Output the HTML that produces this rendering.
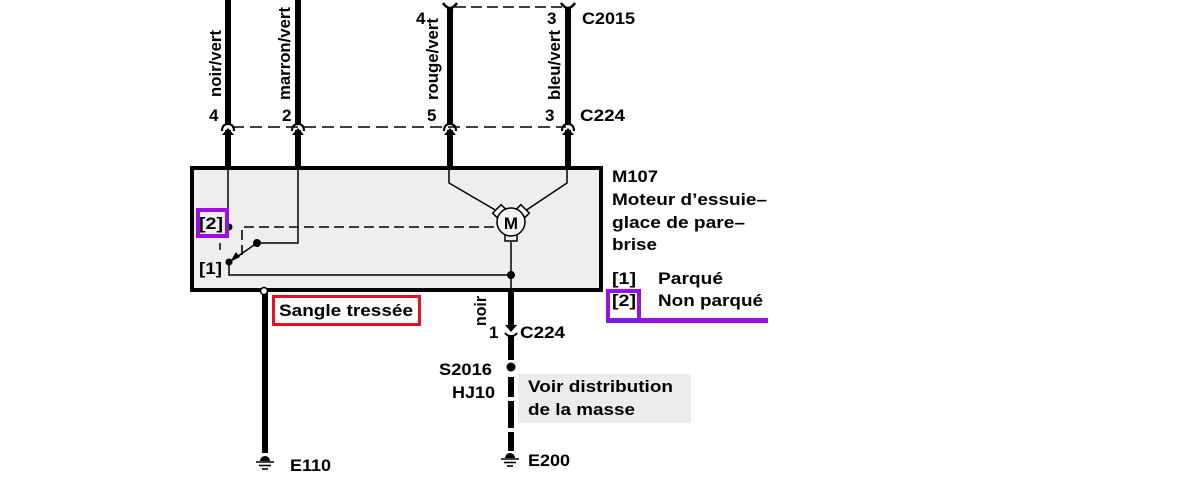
<!DOCTYPE html>
<html><head><meta charset="utf-8"><style>
html,body{margin:0;padding:0;background:#fff;}
svg{display:block;}
text{font-family:"Liberation Sans",Arial,sans-serif;font-weight:bold;font-size:17px;fill:#000;}
</style></head><body>
<svg width="1198" height="501" viewBox="0 0 1198 501" xmlns="http://www.w3.org/2000/svg">
<!-- component box -->
<rect x="192" y="168" width="409" height="122" fill="#eeeeee" stroke="#000" stroke-width="4"/>

<!-- top thick wires -->
<g stroke="#000" stroke-width="6" fill="none">
  <line x1="228" y1="0" x2="228" y2="124"/>
  <line x1="298" y1="0" x2="298" y2="124"/>
  <line x1="450" y1="8" x2="450" y2="124"/>
  <line x1="568" y1="8" x2="568" y2="124"/>
  <line x1="228" y1="130" x2="228" y2="167"/>
  <line x1="298" y1="130" x2="298" y2="167"/>
  <line x1="450" y1="130" x2="450" y2="167"/>
  <line x1="568" y1="130" x2="568" y2="167"/>
</g>
<!-- C224 connector marks (top) -->
<g stroke="#000" stroke-width="2" fill="none">
  <path d="M222 131 Q222 124 228 124 Q234 124 234 131"/>
  <path d="M292 131 Q292 124 298 124 Q304 124 304 131"/>
  <path d="M444 131 Q444 124 450 124 Q456 124 456 131"/>
  <path d="M562 131 Q562 124 568 124 Q574 124 574 131"/>
</g>
<g fill="#000">
  <polygon points="222,135 228,128 234,135"/>
  <polygon points="292,135 298,128 304,135"/>
  <polygon points="444,135 450,128 456,135"/>
  <polygon points="562,135 568,128 574,135"/>
</g>
<!-- C2015 connector marks -->
<g stroke="#000" stroke-width="2.5" fill="none">
  <path d="M443 3 Q450 13 457 3"/>
  <path d="M561 3 Q568 13 575 3"/>
</g>
<!-- dashed connector lines -->
<line x1="232" y1="127" x2="566" y2="127" stroke="#000" stroke-width="1.6" stroke-dasharray="12 6"/>
<line x1="455" y1="7" x2="564" y2="7" stroke="#000" stroke-width="1.6" stroke-dasharray="11 5"/>

<!-- internal thin wiring -->
<g stroke="#000" stroke-width="1.5" fill="none">
  <polyline points="228,170 228,227"/>
  <polyline points="298,170 298,243 257,243"/>
  <line x1="257" y1="243" x2="234" y2="259"/>
  <polyline points="229,262 229,275 511,275"/>
  <polyline points="449,170 449,183 497,211"/>
  <polyline points="567,170 567,183 525,211"/>
  <line x1="511" y1="242" x2="511" y2="290"/>
</g>
<polygon points="230,262 236,252 240,257" fill="#000"/>
<g stroke="#000" stroke-width="1.6" fill="none" stroke-dasharray="10 5">
  <polyline points="242,255 242,227 497,227"/>
</g>
<line x1="220" y1="243" x2="220" y2="250" stroke="#000" stroke-width="1.5"/>
<g fill="#000">
  <circle cx="229" cy="227" r="3.5"/>
  <circle cx="257" cy="243" r="4"/>
  <circle cx="229" cy="262" r="3.5"/>
  <circle cx="511" cy="275" r="4"/>
</g>

<!-- motor -->
<g stroke="#000" stroke-width="1.5" fill="#f4f4f4">
  <rect x="505" y="235" width="12" height="6"/>
  <rect x="-6" y="-3" width="12" height="6" transform="translate(499,211) rotate(-45)"/>
  <rect x="-6" y="-3" width="12" height="6" transform="translate(523,211) rotate(45)"/>
  <circle cx="511" cy="222" r="14"/>
</g>
<text x="511" y="229" text-anchor="middle" font-size="16">M</text>

<!-- purple [2] box inside -->
<rect x="198" y="210" width="29" height="26" fill="none" stroke="#9b10e0" stroke-width="4"/>
<text x="199" y="229" textLength="24" lengthAdjust="spacingAndGlyphs">[2]</text>
<text x="199" y="274" textLength="23" lengthAdjust="spacingAndGlyphs">[1]</text>

<!-- bottom wires -->
<line x1="265" y1="292" x2="265" y2="453" stroke="#000" stroke-width="6"/>
<circle cx="264" cy="291" r="3.5" fill="#fff" stroke="#000" stroke-width="1.5"/>
<g stroke="#000" stroke-width="6">
  <line x1="511" y1="292" x2="511" y2="326"/>
  <line x1="511" y1="335" x2="511" y2="360"/>
  <line x1="511" y1="377" x2="511" y2="397"/>
  <line x1="511" y1="401" x2="511" y2="428"/>
  <line x1="511" y1="432" x2="511" y2="451"/>
</g>
<polygon points="505,325 517,325 511,332" fill="#000"/>
<path d="M505 333 Q511 340 517 333" stroke="#000" stroke-width="2" fill="none"/>
<circle cx="511" cy="367" r="4.5" fill="#000"/>

<!-- grounds -->
<g fill="#000" stroke="none">
  <path d="M260 461 A5 5 0 0 1 270 461 Z"/>
  <path d="M505 458 A5 5 0 0 1 515 458 Z"/>
</g>
<g stroke="#000" stroke-width="1.6">
  <line x1="256" y1="462" x2="274" y2="462"/>
  <line x1="259" y1="465.5" x2="271" y2="465.5"/>
  <line x1="262" y1="469" x2="268" y2="469"/>
  <line x1="501" y1="459" x2="519" y2="459"/>
  <line x1="504" y1="462.5" x2="516" y2="462.5"/>
  <line x1="507" y1="466" x2="513" y2="466"/>
</g>

<!-- red label box -->
<rect x="273.5" y="296.5" width="146" height="28" fill="none" stroke="#e8101e" stroke-width="3"/>
<text x="279" y="316" textLength="134" lengthAdjust="spacingAndGlyphs">Sangle tressée</text>

<!-- gray note -->
<rect x="518" y="374" width="173" height="49" fill="#ececec"/>
<text x="528" y="392" textLength="145" lengthAdjust="spacingAndGlyphs">Voir distribution</text>
<text x="528" y="415" textLength="107" lengthAdjust="spacingAndGlyphs">de la masse</text>

<!-- pin / connector labels -->
<text x="209" y="121">4</text>
<text x="282" y="121">2</text>
<text x="427" y="121">5</text>
<text x="545" y="121">3</text>
<text x="580" y="121" textLength="45" lengthAdjust="spacingAndGlyphs">C224</text>
<text x="416" y="24">4</text>
<text x="547" y="24">3</text>
<text x="582" y="24" textLength="53" lengthAdjust="spacingAndGlyphs">C2015</text>
<text x="489" y="338">1</text>
<text x="520" y="338" textLength="45" lengthAdjust="spacingAndGlyphs">C224</text>
<text x="439" y="375" textLength="53" lengthAdjust="spacingAndGlyphs">S2016</text>
<text x="452" y="398" textLength="43" lengthAdjust="spacingAndGlyphs">HJ10</text>
<text x="290" y="471" textLength="41" lengthAdjust="spacingAndGlyphs">E110</text>
<text x="528" y="466" textLength="42" lengthAdjust="spacingAndGlyphs">E200</text>

<!-- rotated wire colour labels -->
<text transform="translate(221,97) rotate(-90)" textLength="67" lengthAdjust="spacingAndGlyphs">noir/vert</text>
<text transform="translate(290,100) rotate(-90)" textLength="93" lengthAdjust="spacingAndGlyphs">marron/vert</text>
<text transform="translate(438,100) rotate(-90)" textLength="82" lengthAdjust="spacingAndGlyphs">rouge/vert</text>
<text transform="translate(560,100) rotate(-90)" textLength="70" lengthAdjust="spacingAndGlyphs">bleu/vert</text>
<text transform="translate(486,326) rotate(-90)" textLength="30" lengthAdjust="spacingAndGlyphs">noir</text>

<!-- component description -->
<text x="612" y="182" textLength="46" lengthAdjust="spacingAndGlyphs">M107</text>
<text x="612" y="205" textLength="155" lengthAdjust="spacingAndGlyphs">Moteur d’essuie–</text>
<text x="612" y="228" textLength="133" lengthAdjust="spacingAndGlyphs">glace de pare–</text>
<text x="612" y="250" textLength="45" lengthAdjust="spacingAndGlyphs">brise</text>
<text x="612" y="284" textLength="24" lengthAdjust="spacingAndGlyphs">[1]</text>
<text x="658" y="284" textLength="65" lengthAdjust="spacingAndGlyphs">Parqué</text>
<text x="612" y="306" textLength="24" lengthAdjust="spacingAndGlyphs">[2]</text>
<text x="658" y="306" textLength="105" lengthAdjust="spacingAndGlyphs">Non parqué</text>
<rect x="608" y="291" width="31" height="30" fill="none" stroke="#9b10e0" stroke-width="4"/>
<line x1="606" y1="320.5" x2="768" y2="320.5" stroke="#9b10e0" stroke-width="5"/>
<line x1="606" y1="320.5" x2="640" y2="320.5" stroke="#7a1be8" stroke-width="5"/>
</svg>
</body></html>
